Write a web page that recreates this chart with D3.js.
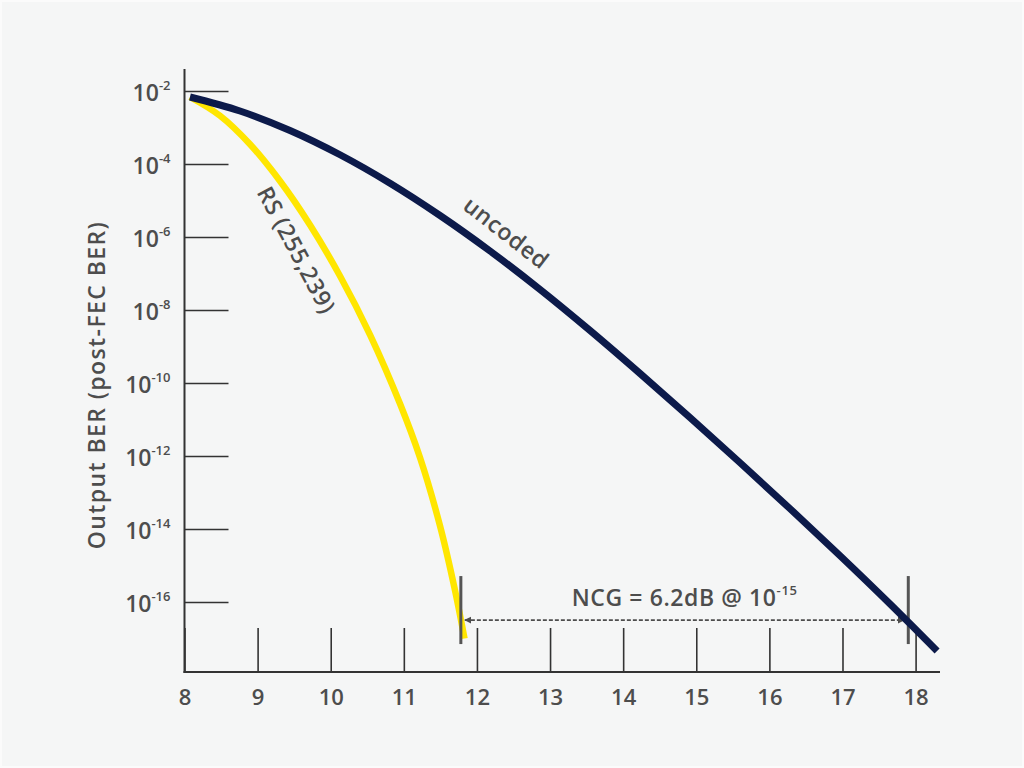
<!DOCTYPE html>
<html><head><meta charset="utf-8">
<script src="https://cdn.jsdelivr.net/npm/d3@7"></script>
<style>
body{margin:0;background:#f5f6f6}
svg{display:block}
text{font-family:"Open Sans","Noto Sans",sans-serif;font-weight:600;fill:#4d4d4d}
</style></head>
<body>
<svg id="chart" width="1024" height="768"></svg>
<script>
// ---- data ----
const xTickValues = [8, 9, 10, 11, 12, 13, 14, 15, 16, 17, 18];
const yTickExponents = [-2, -4, -6, -8, -10, -12, -14, -16];
const yTickBase = "10";

const uncodedX   = [8.075, 8.759, 9.443, 10.127, 10.811, 11.495, 12.179, 12.863, 13.547, 14.231, 14.915, 15.599, 16.283, 16.967, 17.651, 18.294];
const uncodedBER = [6.85e-3, 2.83e-3, 8.28e-4, 1.79e-4, 2.97e-5, 3.88e-6, 4.13e-7, 3.65e-8, 2.74e-9, 1.82e-10, 1.12e-11, 6.53e-13, 3.59e-14, 1.85e-15, 8.81e-17, 4.55e-18];

const rsX   = [8.075, 8.486, 8.896, 9.306, 9.717, 10.127, 10.538, 10.948, 11.222, 11.495, 11.700, 11.830];
const rsBER = [6.85e-3, 2.10e-3, 3.48e-4, 3.42e-5, 2.13e-6, 8.55e-8, 2.09e-9, 2.69e-11, 8.93e-13, 1.22e-14, 2.09e-16, 1.0e-17];

const seriesNames = ["uncoded", "RS (255,239)"];
const yTitle = "Output BER (post-FEC BER)";
const ncgText = "NCG = 6.2dB @ 10";
const ncgExp = "-15";
const ncgFromX = 11.78, ncgToX = 17.9, ncgArrowBER = 3.2e-17;
const rsLabelPos = [9.53, 4.4e-7], uncodedLabelPos = [12.40, 1.3e-6];

// ---- layout ----
const W = 1024, H = 768;
const plotLeft = 184.5, plotBottom = 672, plotTop = 69, plotRight = 940;
const navy = "#0c1a4a", yellow = "#ffe600", axisCol = "#333333", grey = "#4d4d4d";

const svg = d3.select("#chart");
svg.append("rect").attr("x",1).attr("y",1).attr("width",W-2).attr("height",H-2)
  .attr("fill","#f5f6f6").attr("stroke","#fbfbfb").attr("stroke-width",2);

const x = d3.scaleLinear().domain([8, 18]).range([plotLeft, 915.6]);
const y = d3.scaleLog().domain([1e-2, 1e-16]).range([91, 602]);

// x axis ticks (inner)
const gx = svg.append("g").attr("transform", `translate(0,${plotBottom})`)
  .call(d3.axisBottom(x).tickValues(xTickValues).tickSize(-44).tickPadding(14).tickFormat(d3.format("d")));
gx.select(".domain").remove();
gx.selectAll(".tick line").attr("stroke", axisCol).attr("stroke-width", 1.6);
gx.selectAll(".tick text").attr("font-size", 22).attr("fill", grey).attr("dy","0.85em");

// y axis ticks (inner)
const yTickValues = yTickExponents.map(e => Math.pow(10, e));
const gy = svg.append("g").attr("transform", `translate(${plotLeft},0)`)
  .call(d3.axisLeft(y).tickValues(yTickValues).tickSize(-44).tickPadding(14).tickFormat(""));
gy.select(".domain").remove();
gy.selectAll(".tick line").attr("stroke", axisCol).attr("stroke-width", 1.6);
gy.selectAll(".tick text").each(function(d, i) {
  const t = d3.select(this).attr("font-size", 23).attr("fill", grey).attr("dy", "0.42em");
  t.text(null);
  t.append("tspan").text(yTickBase);
  t.append("tspan").attr("font-size", 13).attr("dy", "-0.85em").text(String(yTickExponents[i]));
});

// axis lines
svg.append("line").attr("x1", plotLeft).attr("x2", plotLeft).attr("y1", plotTop).attr("y2", plotBottom + 1)
  .attr("stroke", axisCol).attr("stroke-width", 2);
svg.append("line").attr("x1", plotLeft - 1).attr("x2", plotRight).attr("y1", plotBottom).attr("y2", plotBottom)
  .attr("stroke", axisCol).attr("stroke-width", 2);

// y title
svg.append("text").attr("transform", `translate(105,385) rotate(-90)`)
  .attr("text-anchor", "middle").attr("font-size", 23).attr("letter-spacing", 1.4).attr("fill", grey).text(yTitle);

const line = d3.line().x(d => x(d[0])).y(d => y(d[1])).curve(d3.curveCatmullRom.alpha(0.5));

// RS curve
svg.append("path").datum(d3.zip(rsX, rsBER)).attr("d", line)
  .attr("fill", "none").attr("stroke", yellow).attr("stroke-width", 6.5);

// NCG annotation
const defs = svg.append("defs");
defs.append("marker").attr("id","arr").attr("viewBox","0 0 10 10").attr("refX",9).attr("refY",5)
  .attr("markerWidth",4).attr("markerHeight",4).attr("orient","auto-start-reverse")
  .append("path").attr("d","M0,0 L10,5 L0,10 z").attr("fill", grey);
const ay = y(ncgArrowBER);
[ncgFromX, ncgToX].forEach(v => {
  svg.append("line").attr("x1", x(v)).attr("x2", x(v)).attr("y1", ay - 44).attr("y2", ay + 24)
    .attr("stroke", "#555").attr("stroke-width", 3);
});
svg.append("line").attr("x1", x(ncgFromX) + 4).attr("x2", x(ncgToX) - 4).attr("y1", ay).attr("y2", ay)
  .attr("stroke", grey).attr("stroke-width", 1.8).attr("stroke-dasharray", "4,2")
  .attr("marker-start", "url(#arr)").attr("marker-end", "url(#arr)");
const nt = svg.append("text").attr("x", (x(ncgFromX) + x(ncgToX)) / 2).attr("y", ay - 14)
  .attr("text-anchor", "middle").attr("font-size", 23).attr("letter-spacing", 0.6).attr("fill", grey);
nt.append("tspan").text(ncgText);
nt.append("tspan").attr("font-size", 13).attr("dy", "-0.85em").text(ncgExp);

// uncoded curve
svg.append("path").datum(d3.zip(uncodedX, uncodedBER)).attr("d", line)
  .attr("fill", "none").attr("stroke", navy).attr("stroke-width", 7);

// series labels
svg.append("text").attr("transform", `translate(${x(uncodedLabelPos[0])},${y(uncodedLabelPos[1])}) rotate(38)`)
  .attr("text-anchor", "middle").attr("dy", "0.35em").attr("font-size", 23).attr("letter-spacing", 0.6).attr("fill", grey).text(seriesNames[0]);
svg.append("text").attr("transform", `translate(${x(rsLabelPos[0])},${y(rsLabelPos[1])}) rotate(62)`)
  .attr("text-anchor", "middle").attr("dy", "0.35em").attr("font-size", 23).attr("letter-spacing", 0.6).attr("fill", grey).text(seriesNames[1]);
</script>
</body></html>
